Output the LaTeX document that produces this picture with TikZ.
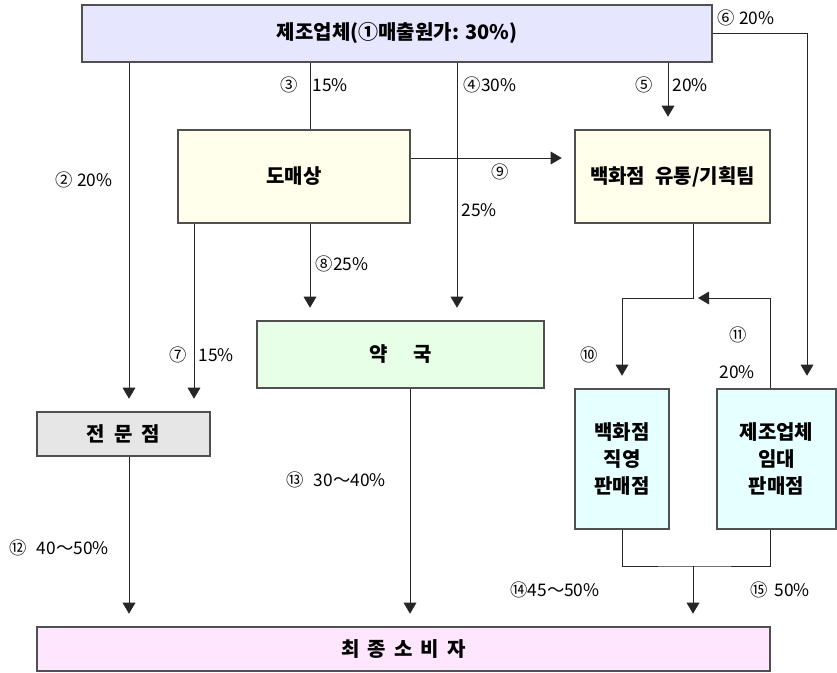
\documentclass[tikz,border=0pt]{standalone}
\usepackage{fontspec}
\setmainfont{Noto Sans CJK KR}
\usetikzlibrary{arrows.meta}
\definecolor{cTop}{HTML}{E6E6FF}
\definecolor{cYel}{HTML}{FFFFEC}
\definecolor{cGrn}{HTML}{E6FFE6}
\definecolor{cGry}{HTML}{E6E6E6}
\definecolor{cCyn}{HTML}{E6FFFF}
\definecolor{cPnk}{HTML}{FFE6FF}
\definecolor{cBrd}{HTML}{505050}
\begin{document}
\begin{tikzpicture}[x=0.75pt,y=-0.75pt,
  box/.style={draw=cBrd,line width=0.9pt,inner sep=0pt,font=\fontsize{15}{20.5}\selectfont\bfseries,align=center},
  con/.style={draw=black!85,line width=0.7pt},
  arr/.style={con,-{Triangle[length=8.25pt,width=9.5pt,sep=5pt]},shorten >=4.5pt},
  arrL/.style={con,-{Triangle[length=8.25pt,width=9.5pt,sep=0pt]},shorten >=3.75pt},
  lbl/.style={inner sep=0pt,font=\fontsize{13}{15}\selectfont}]
\useasboundingbox (0,0) rectangle (837,673);
% boxes
\node[box,fill=cTop,minimum width=472.5pt,minimum height=42.75pt] (top) at (397,33.5) {제조업체(①매출원가: 30\%)};
\node[box,fill=cYel,minimum width=174pt,minimum height=69.75pt] (dome) at (294,176.5) {도매상};
\node[box,fill=cYel,minimum width=146.25pt,minimum height=69.75pt] (dept) at (672.5,176.5) {백화점\hspace{0.5em}유통/기획팀};
\node[box,fill=cGrn,minimum width=215.25pt,minimum height=50.25pt] (pharm) at (400.5,354.5) {약\hspace{1.3em}국};
\node[box,fill=cGry,minimum width=129.75pt,minimum height=33pt] (spec) at (123.5,434) {전\hspace{0.45em}문\hspace{0.45em}점};
\node[box,fill=cCyn,minimum width=70.5pt,minimum height=105pt] (direct) at (622,459) {백화점\\직영\\판매점};
\node[box,fill=cCyn,minimum width=89.25pt,minimum height=105pt] (lease) at (776.5,459) {제조업체\\임대\\판매점};
\node[box,fill=cPnk,minimum width=549.75pt,minimum height=33pt] (final) at (403.5,649) {최\hspace{0.4em}종\hspace{0.4em}소\hspace{0.4em}비\hspace{0.4em}자};
% column / row coordinates
\coordinate (cA) at (129,0);
\coordinate (cB) at (194,0);
\coordinate (cC) at (310,0);
\coordinate (cD) at (457,0);
\coordinate (cE) at (668,0);
\coordinate (cF) at (807,0);
\coordinate (cG) at (693,0);
\coordinate (cH) at (410,0);
\coordinate (cK) at (770,0);
\coordinate (r9) at (0,158);
\coordinate (rY) at (0,298);
\coordinate (bY) at (0,566);
% connectors
\draw[arr] (top.south -| cA) -- (spec.north -| cA);
\draw[con] (top.south -| cC) -- (dome.north -| cC);
\draw[arr] (top.south -| cD) -- (pharm.north -| cD);
\draw[arr] (top.south -| cE) -- (dept.north -| cE);
\draw[arr] (top.east) -| (lease.north -| cF);
\draw[arr] (dome.south -| cB) -- (spec.north -| cB);
\draw[arr] (dome.south -| cC) -- (pharm.north -| cC);
\draw[arr] (dome.east |- r9) -- (dept.west |- r9);
\draw[arr] (dept.south -| cG) -- (cG |- rY) -| (direct.north);
\draw[arrL] (lease.north -| cK) |- (cG |- rY);
\draw[arr] (spec.south -| cA) -- (final.north -| cA);
\draw[arr] (pharm.south -| cH) -- (final.north -| cH);
\draw[con] (direct.south) |- (cG |- bY) -| (lease.south -| cK);
\draw[arr] (cG |- bY) -- (final.north -| cG);
% labels
\node[lbl] (l6) at (746,18) {⑥ 20\%};
\node[lbl] (l3a) at (289,85) {③};
\node[lbl] (l3b) at (330,85) {15\%};
\node[lbl] (l4) at (490,85) {④30\%};
\node[lbl] (l5a) at (644,85) {⑤};
\node[lbl] (l5b) at (690,85) {20\%};
\node[lbl] (l2) at (84,180) {② 20\%};
\node[lbl] (l9) at (500,172) {⑨};
\node[lbl] (l25) at (479,210) {25\%};
\node[lbl] (l8) at (342,264) {⑧25\%};
\node[lbl] (l7a) at (178,355) {⑦};
\node[lbl] (l7b) at (216,355) {15\%};
\node[lbl] (l10) at (589,355) {⑩};
\node[lbl] (l11) at (738,335) {⑪};
\node[lbl] (l11b) at (737,372) {20\%};
\node[lbl] (l13) at (336,480) {⑬\hspace{0.6em}30～40\%};
\node[lbl] (l12) at (59,548) {⑫\hspace{0.6em}40～50\%};
\node[lbl] (l14) at (555,590) {⑭45～50\%};
\node[lbl] (l15) at (780,590) {⑮\hspace{0.4em}50\%};
\end{tikzpicture}
\end{document}
